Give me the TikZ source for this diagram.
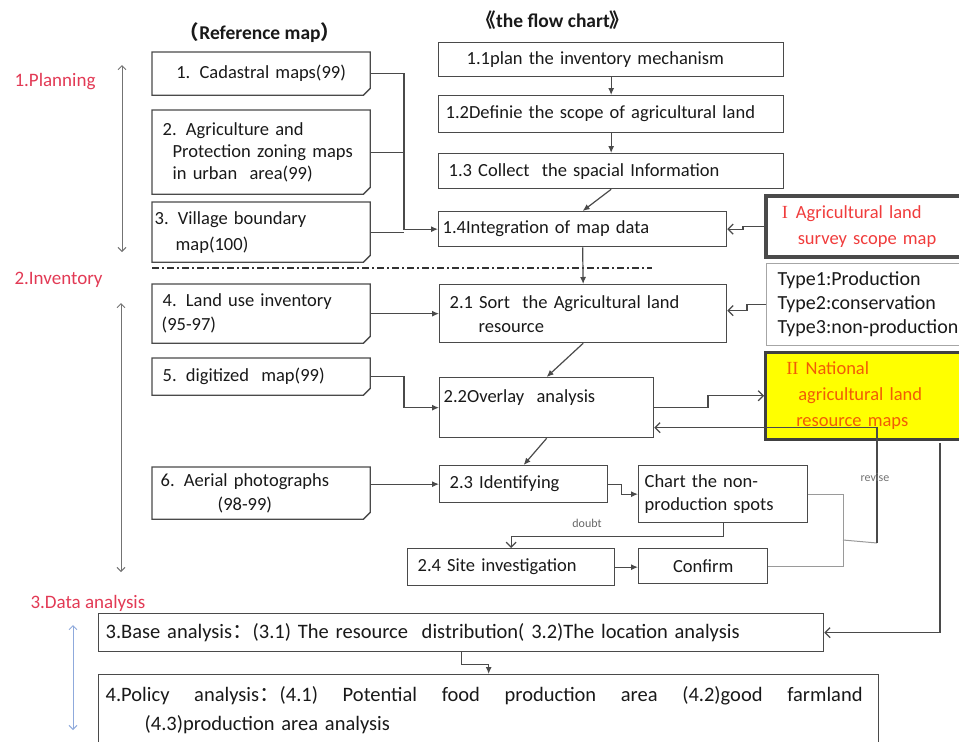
\documentclass[tikz,border=0pt]{standalone}
\usepackage{fontspec}
\setmainfont{Carlito}
\newfontfamily\cjkfont{Noto Sans CJK SC}
\newfontfamily\numfont{Liberation Serif}
\usetikzlibrary{arrows.meta}

\definecolor{labred}{HTML}{E23A55}
\definecolor{scopered}{HTML}{F03C3C}
\definecolor{resorange}{HTML}{F25C05}
\definecolor{boxgray}{HTML}{4A4A4A}
\definecolor{loopgray}{HTML}{9A9A9A}
\definecolor{axisblue}{HTML}{8FAADC}
\definecolor{hiyellow}{HTML}{FFFF00}

\begin{document}
\begin{tikzpicture}[x=1pt,y=-1pt,
  txt/.style={font=\fontsize{18.5}{24}\selectfont, text=black!90},
  fbox/.style={txt, draw=boxgray, line width=1.3pt, rectangle, anchor=north west,
               inner xsep=4pt, inner ysep=0pt, align=left},
  refbox/.style={fbox, draw=none},
  snip/.style={draw=boxgray, line width=1.3pt},
  sect/.style={anchor=west, text=labred, font=\fontsize{19}{22}\selectfont},
  head/.style={font=\bfseries\fontsize{19.5}{22}\selectfont, text=black!90},
  note/.style={font=\fontsize{12}{14}\selectfont, text=black!60},
  conn/.style={draw=boxgray, line width=1.2pt},
  gline/.style={draw=loopgray, line width=1pt},
  tipF/.style={-{Latex[length=7pt,width=6pt]}},
  tipO/.style={-{Straight Barb[length=5pt,width=10pt]}},
  axis/.style={line width=1pt, {Straight Barb[length=4pt,width=8pt]}-{Straight Barb[length=4pt,width=8pt]}}
]
\useasboundingbox (0,0) rectangle (959,742);

% ---- headings and phase labels ----
\node[head] (href) at (260,33) {{\cjkfont （}Reference map{\cjkfont ）}};
\node[head] (hflow) at (553,20) {{\cjkfont 《}the flow chart{\cjkfont 》}};

\node[sect] (sp) at (11,82) {1.Planning};
\node[sect] (si) at (11,280) {2.Inventory};
\node[sect] (sd) at (27,603) {3.Data analysis};

% ---- reference map column ----
\node[refbox, minimum width=217pt, text width=209pt, minimum height=42pt, align=center] (r1) at (152,52) {1. Cadastral maps(99)};
\node[refbox, minimum width=217pt, text width=209pt, minimum height=83pt, font=\fontsize{18.5}{22}\selectfont] (r2) at (152,110)
  {\hspace*{6pt}2. Agriculture and\\\hspace*{16pt}Protection zoning maps\\\hspace*{16pt}in urban\ \ area(99)};
\node[refbox, minimum width=217pt, text width=209pt, minimum height=59pt, font=\fontsize{18.5}{26}\selectfont] (r3) at (152,202)
  {\hspace*{-2pt}3. Village boundary\\\hspace*{19pt}map(100)};
\node[refbox, minimum width=217pt, text width=209pt, minimum height=58pt] (r4) at (152,284)
  {\hspace*{6pt}4. Land use inventory\\\hspace*{5pt}(95-97)};
\node[refbox, minimum width=217pt, text width=209pt, minimum height=36pt] (r5) at (152,358)
  {\hspace*{6pt}5. digitized\ \ map(99)};
\node[refbox, minimum width=217pt, text width=209pt, minimum height=51pt] (r6) at (152,467)
  {\hspace*{4pt}6. Aerial photographs\\\hspace*{61pt}(98-99)};

\foreach \n in {r1,r2,r3,r4,r5,r6}
  \draw[snip] (\n.north west) -- (\n.north east) -- ([yshift=7pt]\n.south east)
    -- ([xshift=-7pt]\n.south east) -- (\n.south west) -- cycle;

% ---- flow chart ----
\node[fbox, minimum width=345pt, text width=337pt, minimum height=34pt] (f11) at (438,42)
  {\hspace*{24pt}1.1plan the inventory mechanism};
\node[fbox, minimum width=345pt, text width=337pt, minimum height=37pt] (f12) at (438,95)
  {\hspace*{3pt}1.2Definie the scope of agricultural land};
\node[fbox, minimum width=345pt, text width=337pt, minimum height=35pt] (f13) at (438,153)
  {\hspace*{6pt}1.3 Collect\ \ the spacial Information};
\node[fbox, minimum width=288pt, text width=280pt, minimum height=35pt] (f14) at (438,211)
  {1.4Integration of map data};
\node[fbox, minimum width=287pt, text width=279pt, minimum height=58pt] (f21) at (439,284)
  {\hspace*{6pt}2.1 Sort\ \ the Agricultural land\\\hspace*{35pt}resource};
\node[fbox, minimum width=214pt, text width=206pt, minimum height=60pt] (f22) at (439,377)
  {2.2Overlay\ \ analysis\\\mbox{}};
\node[fbox, minimum width=168pt, text width=160pt, minimum height=37pt] (f23) at (439,465)
  {\hspace*{6pt}2.3 Identifying};
\node[fbox, minimum width=169pt, text width=161pt, minimum height=57pt, font=\fontsize{18.5}{23}\selectfont] (fchart) at (638,465)
  {\hspace*{2pt}Chart the non-\\\hspace*{2pt}production spots};
\node[fbox, minimum width=207pt, text width=199pt, minimum height=37pt] (f24) at (407,548)
  {\hspace*{6pt}2.4 Site investigation};
\node[fbox, minimum width=129pt, text width=121pt, minimum height=35pt, align=center] (fconf) at (638,548)
  {Confirm};

% ---- output maps and land types ----
\node[fbox, draw=boxgray, line width=3.5pt, minimum width=198pt, text width=190pt, minimum height=61pt,
      text=scopered, font=\fontsize{18.5}{26}\selectfont] (mI) at (764,194)
  {\hspace*{12pt}{\numfont I}\hspace{8pt}Agricultural land\\\hspace*{28pt}survey scope map};
\node[fbox, draw=black!35, line width=1pt, minimum width=196pt, text width=188pt, minimum height=82pt,
      font=\fontsize{20}{24}\selectfont] (mT) at (766,263)
  {\hspace*{7pt}Type1:Production\\\hspace*{7pt}Type2:conservation\\\hspace*{7pt}Type3:non-production};
\node[fbox, draw=black!75, line width=2.5pt, fill=hiyellow, minimum width=198pt, text width=190pt, minimum height=87pt,
      text=resorange, font=\fontsize{18.5}{26}\selectfont] (mII) at (764,351)
  {\hspace*{17pt}{\numfont II}\hspace{7pt}National\\\hspace*{29pt}agricultural land\\\hspace*{27pt}resource maps};

% ---- analysis boxes ----
\node[fbox, minimum width=725pt, text width=717pt, minimum height=38pt, font=\fontsize{20.5}{24}\selectfont] (mBase) at (98,613)
  {\hspace*{3pt}3.Base analysis{\cjkfont ：}(3.1) The resource\ \ distribution( 3.2)The location analysis};
\node[fbox, minimum width=780pt, text width=772pt, minimum height=71pt, font=\fontsize{20.5}{29}\selectfont] (mPolicy) at (98,674)
  {\hspace*{3pt}\makebox[757pt][l]{4.Policy\hfill analysis{\cjkfont ：}(4.1)\hfill Potential\hfill food\hfill production\hfill area\hfill (4.2)good\hfill farmland}\\
   \hspace*{42pt}(4.3)production area analysis};

% ---- phase axes and separator ----
\coordinate (pa) at (122,65);  \coordinate (pb) at (122,252);
\coordinate (ia) at (121,303); \coordinate (ib) at (121,572);
\coordinate (da) at (73,625);  \coordinate (db) at (73,730);
\draw[axis, draw=black!55] (pa) -- (pb);
\draw[axis, draw=black!55] (ia) -- (ib);
\draw[axis, draw=axisblue] (da) -- (db);

\coordinate (dl) at (152,268); \coordinate (dr) at (652,268);
\draw[draw=black!80, line width=1.6pt, dash pattern=on 7pt off 3pt on 2pt off 3pt] (dl) -- (dr);

% ---- junction columns ----
\coordinate (jA) at (404,0);
\coordinate (jI) at (743,0);
\coordinate (jT) at (747,0);
\coordinate (jO) at (708,0);
\coordinate (jR) at (843,0);
\coordinate (rv1) at (843,540);
\coordinate (rv2) at (877,543);
\coordinate (jB) at (940,443);

% ---- reference maps into the flow ----
\draw[conn, tipF] (r1.east) -- (r1.east -| jA) |- (f14.west);
\draw[conn] (r2.east) -- (r2.east -| jA);
\draw[conn] (r3.east) -- (r3.east -| jA);
\draw[conn, tipF] (f21.west -| r4.east) -- (f21.west);
\draw[conn, tipF] (r5.east) -- (r5.east -| jA) |- (f22.west);
\draw[conn, tipF] (f23.west -| r6.east) -- (f23.west);

% ---- main sequence ----
\draw[conn, tipF] (f11.south) -- (f12.north);
\draw[conn, tipF] (f12.south) -- (f13.north);
\draw[conn, tipF] (f13.south) -- (f14.north);
\draw[conn, tipF] (f14.south) -- (f21.north);
\draw[conn, tipF] (f21.south) -- (f22.north);
\draw[conn, tipF] (f22.south) -- (f23.north);
\draw[conn, tipF] (f23.east) -- ++(13,0) |- (fchart.west);
\draw[conn, tipO] (fchart.south) -- ++(0,13) -| (f24.north);
\node[note] (ldoubt) at (587,523) {doubt};
\draw[conn, tipF] (f24.east) -- (f24.east -| fconf.west);

% ---- side inputs and outputs ----
\draw[conn, tipO] (mI.west) -- (mI.west -| jI) |- (f14.east);
\draw[conn, tipO] (mT.west) -- (mT.west -| jT) |- ([yshift=3pt]f21.east);
\draw[conn, tipO] (f22.east) -- (f22.east -| jO) |- (mII.west);

% ---- revise loop ----
\draw[gline] (fchart.east) -- (fchart.east -| jR) -- (fconf.east -| jR) -- (fconf.east);
\draw[gline] (rv1) -- (rv2);
\draw[conn, tipO] (rv2) |- ([yshift=-20pt]f22.east);
\node[note, text=black!55] (lrev) at (875,477) {revise};

% ---- analysis ----
\draw[conn, tipO] (jB) |- (mBase.east);
\draw[conn, tipF] (mBase.south) -- ++(0,12) -| (mPolicy.north);

\end{tikzpicture}
\end{document}
